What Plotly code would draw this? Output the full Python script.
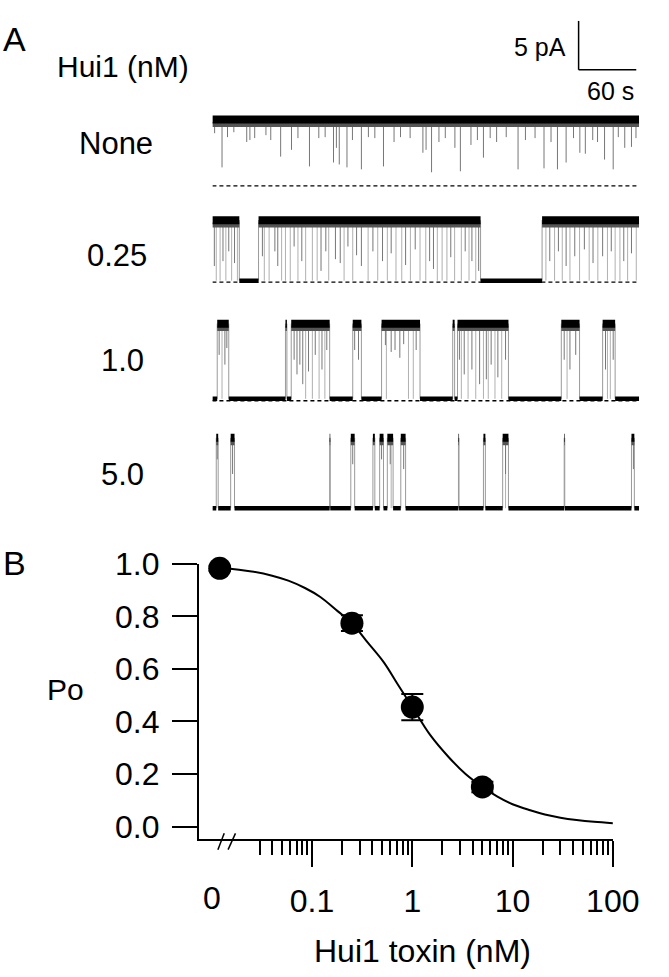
import plotly.graph_objects as go

# ---------------- DATA ----------------
# Panel A : single-channel recordings (time in s, current in pA, closed level = 0)
RECORD_LEN_S = 444
trace_labels = ["None", "0.25", "1.0", "5.0"]
open_level = [6.8, 6.2, 7.7, 7.2]
dash_level = [0.0, -0.15, -0.2, None]

none_open_start = [0]
none_open_end = [444]
none_closure_t = []
none_flicker_t = [10, 71, 101, 126, 132, 140, 155, 178, 228, 258, 282, 318, 345, 359, 368, 388, 408, 417, 436,
                  2.3, 15.7, 22.3, 35.7, 39, 44, 55.7, 60.7, 82.3, 89, 110.7, 117.3, 129, 145.7, 162.3, 169,
                  189, 195.7, 205.7, 219, 222.3, 235.7, 242.3, 252.3, 269, 275.7, 289, 295.7, 305.7, 325.7,
                  335.7, 352.3, 375.7, 382.3, 395.7, 400.7, 422.3, 429, 440.7]
none_flicker_level = [1.9, 3.0, 2.0, 2.4, 2.2, 1.9, 1.7, 2.0, 1.4, 1.5, 2.9, 1.7, 1.8, 1.7, 2.4, 3.3, 2.7, 1.7, 4.0,
                      5.4, 5.0, 5.5, 4.5, 4.7, 4.9, 5.2, 4.7, 3.7, 4.9, 4.9, 5.0, 3.9, 4.7, 5.0, 4.9,
                      4.5, 5.0, 4.9, 3.4, 3.7, 4.5, 4.9, 3.9, 4.2, 4.7, 4.9, 4.5, 5.0, 4.7,
                      4.9, 4.5, 4.9, 3.4, 4.7, 4.5, 5.0, 3.9, 4.9]

p025_open_start = [0, 48, 343]
p025_open_end = [28, 279, 444]
p025_closure_t = [4, 8, 14, 20, 26, 54, 59, 72, 76, 81, 89, 97, 104, 109, 121, 137, 146, 162, 172, 182, 191, 197,
                  206, 216, 222, 234, 239, 244, 252, 259, 267, 274, 347, 356, 364, 372, 382, 392, 401, 411, 419,
                  424, 432, 441]
p025_flicker_t = [2, 11, 17, 23, 52, 65, 68, 85, 93, 113, 118, 128, 133, 141, 150, 155, 167, 177, 186, 201, 211,
                  226, 230, 248, 263, 270, 277, 351, 360, 368, 377, 387, 396, 406, 415, 428, 436]
p025_flicker_level = [1.5, 2.0, 3.0, 1.8, 2.5, 3.0, 1.5, 3.5, 2.0, 1.0, 3.0, 2.2, 1.8, 3.5, 2.6, 1.5, 3.0, 2.0,
                      2.8, 1.6, 3.2, 2.0, 1.2, 2.4, 3.0, 2.0, 1.0, 2.0, 3.0, 1.5, 2.5, 3.2, 1.8, 2.5, 3.0, 2.0, 2.8]

p1_open_start = [5, 76, 82, 146, 176, 250, 255, 363, 406]
p1_open_end = [17, 77.5, 122, 155, 216, 252, 308, 382, 419]
p1_closure_t = [10, 97, 104, 111, 117, 181, 204, 209, 259, 266, 274, 282, 287, 294, 301, 369, 411, 414]
p1_flicker_t = [7, 13, 15, 85, 88, 91, 94, 100, 107, 114, 119, 148, 152, 180, 186, 190, 195, 199, 212,
                257, 262, 270, 278, 285, 290, 297, 305, 366, 372, 378, 409, 417]
p1_flicker_level = [4.5, 3.5, 5.2, 4.0, 2.5, 3.5, 1.5, 2.8, 4.5, 3.0, 5.0, 5.0, 4.0, 5.5, 4.8, 5.0, 4.2, 5.6, 5.0,
                    4.0, 2.5, 3.0, 1.5, 2.0, 3.5, 2.2, 4.0, 4.0, 3.0, 4.5, 3.0, 4.0]

p5_open_start = [4, 19, 122, 144, 167, 174, 182, 196, 256, 282, 302, 366, 436]
p5_open_end = [6, 23, 122.6, 148, 169, 178, 188, 201, 256.6, 284, 308, 366.6, 439]
p5_closure_t = [186, 305]
p5_flicker_t = [5, 21, 146, 176, 185, 199, 305, 438]
p5_flicker_level = [5.0, 3.5, 4.5, 5.0, 4.5, 4.0, 3.5, 4.0]

scale_bar_pA = 5
scale_bar_s = 60

# Panel B : dose-response
conc_nM = [0, 0.25, 1.0, 5.0]
po_mean = [0.983, 0.774, 0.455, 0.151]
po_sem = [0.01, 0.03, 0.05, 0.02]
fit_conc = [0.012, 0.025, 0.04, 0.058, 0.085, 0.121, 0.18, 0.25, 0.36, 0.52, 0.72, 1.0, 1.5, 2.3, 3.4, 5.0,
            7.0, 10, 15, 21, 30, 43.5, 65, 100]
fit_po = [0.985, 0.971, 0.955, 0.936, 0.908, 0.874, 0.82, 0.774, 0.70, 0.625, 0.54, 0.455, 0.35, 0.265, 0.20,
          0.151, 0.115, 0.085, 0.062, 0.046, 0.034, 0.025, 0.018, 0.013]
x_tickvals = [0.1, 1, 10, 100]
x_ticktext = ["0.1", "1", "10", "100"]
x_minor = [0.03, 0.04, 0.05, 0.06, 0.07, 0.08, 0.09] + [m * d for d in (0.1, 1, 10) for m in range(2, 10)]
y_tickvals = [0, 0.2, 0.4, 0.6, 0.8, 1.0]
y_ticktext = ["0.0", "0.2", "0.4", "0.6", "0.8", "1.0"]

# ---------------- LAYOUT HELPERS ----------------
W, H = 669, 977
FONT = "Liberation Sans, Arial, sans-serif"


def fx(px):
    return px / W


def fy(py):
    return 1 - py / H


ZERO_POS = 0.012  # where the 0 nM point sits on the log axis

traces_def = [
    (none_open_start, none_open_end, none_closure_t, none_flicker_t, none_flicker_level),
    (p025_open_start, p025_open_end, p025_closure_t, p025_flicker_t, p025_flicker_level),
    (p1_open_start, p1_open_end, p1_closure_t, p1_flicker_t, p1_flicker_level),
    (p5_open_start, p5_open_end, p5_closure_t, p5_flicker_t, p5_flicker_level),
]
closed_px = [172, 269, 390, 502]  # pixel row of closed level for each trace
YR = (-0.8, 8.8)
PX_PER_PA = 10

fig = go.Figure()

for i, (os_, oe_, cl_t, fl_t, fl_lv) in enumerate(traces_def):
    ya = "y" if i == 0 else f"y{i+1}"
    lvl = open_level[i]
    if dash_level[i] is not None:
        fig.add_trace(go.Scatter(x=[0, RECORD_LEN_S], y=[dash_level[i]] * 2, mode="lines", xaxis="x", yaxis=ya,
                                 line=dict(color="black", width=1.3, dash="4px,3px"), hoverinfo="skip"))
    tx, ty = [], []
    for s, e in zip(os_, oe_):
        for t in (s, e):
            if 0 < t < RECORD_LEN_S:
                tx += [t, t, None]
                ty += [0, lvl, None]
    fig.add_trace(go.Scatter(x=tx, y=ty, mode="lines", xaxis="x", yaxis=ya,
                             line=dict(color="#9a9a9a", width=1), hoverinfo="skip"))
    cx, cy = [], []
    for t in cl_t:
        cx += [t, t, None]
        cy += [0, lvl, None]
    fig.add_trace(go.Scatter(x=cx, y=cy, mode="lines", xaxis="x", yaxis=ya,
                             line=dict(color="#b0b0b0", width=1), hoverinfo="skip"))
    px_, py_ = [], []
    for t, lv in zip(fl_t, fl_lv):
        px_ += [t, t, None]
        py_ += [lv, lvl, None]
    fig.add_trace(go.Scatter(x=px_, y=py_, mode="lines", xaxis="x", yaxis=ya,
                             line=dict(color="#777777", width=1), hoverinfo="skip"))
    bounds = sorted(zip(os_, oe_))
    csx, csy = [], []
    prev = 0
    for s, e in bounds:
        if s > prev:
            csx += [prev, s, None]
            csy += [0, 0, None]
        prev = e
    if prev < RECORD_LEN_S:
        csx += [prev, RECORD_LEN_S, None]
        csy += [0, 0, None]
    if csx:
        fig.add_trace(go.Scatter(x=csx, y=csy, mode="lines", xaxis="x", yaxis=ya,
                                 line=dict(color="black", width=4.5), hoverinfo="skip"))
    ox, oy, fy_ = [], [], []
    for s, e in bounds:
        ox += [s, e, None]
        oy += [lvl, lvl, None]
        fy_ += [lvl - 0.5, lvl - 0.5, None]
    fig.add_trace(go.Scatter(x=ox, y=fy_, mode="lines", xaxis="x", yaxis=ya,
                             line=dict(color="#555555", width=5), hoverinfo="skip"))
    fig.add_trace(go.Scatter(x=ox, y=oy, mode="lines", xaxis="x", yaxis=ya,
                             line=dict(color="black", width=8), hoverinfo="skip"))

# Panel B
fig.add_trace(go.Scatter(x=fit_conc, y=fit_po, mode="lines", line=dict(color="black", width=2, shape="spline"),
                         xaxis="x2", yaxis="y5", hoverinfo="skip"))
plot_x = [ZERO_POS if c == 0 else c for c in conc_nM]
fig.add_trace(go.Scatter(x=plot_x, y=po_mean, mode="markers", xaxis="x2", yaxis="y5",
                         marker=dict(color="black", size=23),
                         error_y=dict(type="data", array=po_sem, color="black", thickness=2, width=11),
                         cliponaxis=False, hoverinfo="skip"))

# ---------------- AXES ----------------
layout = dict(
    width=W, height=H, margin=dict(l=0, r=0, t=0, b=0),
    paper_bgcolor="white", plot_bgcolor="white", showlegend=False,
    font=dict(family=FONT, color="black"),
    xaxis=dict(domain=[fx(221), fx(665)], range=[0, RECORD_LEN_S], visible=False, anchor="y"),
)
for i in range(4):
    key = "yaxis" if i == 0 else f"yaxis{i+1}"
    top = closed_px[i] - (YR[1]) * PX_PER_PA
    bot = closed_px[i] - (YR[0]) * PX_PER_PA
    layout[key] = dict(domain=[fy(bot), fy(top)], range=list(YR), visible=False, anchor="x")

layout["xaxis2"] = dict(
    type="log", domain=[fx(207), fx(638)], range=[-2.128, 2.004], anchor="y5",
    showline=True, linecolor="black", linewidth=2, showgrid=False, zeroline=False,
    ticks="outside", ticklen=26, tickwidth=2, tickcolor="black",
    tickvals=x_tickvals, ticktext=x_ticktext, tickfont=dict(size=32, family=FONT),
    ticklabelstandoff=6,
    minor=dict(tickvals=x_minor, ticks="outside", ticklen=14, tickwidth=2, tickcolor="black", showgrid=False),
)
layout["yaxis5"] = dict(
    domain=[fy(841), fy(559)], range=[-0.048, 1.0], anchor="x2",
    showline=True, linecolor="black", linewidth=2, showgrid=False, zeroline=False,
    ticks="outside", ticklen=25, tickwidth=2, tickcolor="black",
    tickvals=y_tickvals, ticktext=y_ticktext, tickfont=dict(size=32, family=FONT),
    ticklabelstandoff=6,
)

px_per_s = (665 - 221) / RECORD_LEN_S
sb_x0, sb_y0 = 602, 53
shapes = [
    dict(type="line", xref="paper", yref="paper", x0=fx(sb_x0), x1=fx(sb_x0),
         y0=fy(sb_y0), y1=fy(sb_y0 - scale_bar_pA * PX_PER_PA), line=dict(color="black", width=1.5)),
    dict(type="line", xref="paper", yref="paper", x0=fx(sb_x0), x1=fx(sb_x0 + scale_bar_s * px_per_s),
         y0=fy(sb_y0), y1=fy(sb_y0), line=dict(color="black", width=1.5)),
    dict(type="line", xref="paper", yref="paper", x0=fx(226.7), y0=fy(851.7), x1=fx(233.3), y1=fy(835),
         line=dict(color="black", width=1.5)),
    dict(type="line", xref="paper", yref="paper", x0=fx(237.3), y0=fy(851.7), x1=fx(245), y1=fy(835),
         line=dict(color="black", width=1.5)),
]
layout["shapes"] = shapes


def ann(text, x, y, size, xanchor="center"):
    return dict(text=text, x=fx(x), y=fy(y), xref="paper", yref="paper", showarrow=False,
                xanchor=xanchor, yanchor="middle", font=dict(size=size, family=FONT, color="black"))


annotations = [
    ann("A", 15, 22, 34),
    ann("B", 15, 558, 34),
    ann("Hui1 (nM)", 128, 50, 30),
    ann("5 pA", 591, 30, 25, "right"),
    ann("60 s", 635, 75, 25),
    ann("Po", 68, 688, 30),
    ann("Hui1 toxin (nM)", 440, 955, 32),
]
label_y = [129, 243, 351, 468]
label_x = [121, 122, 127, 127]
for lab, lx, ly in zip(trace_labels, label_x, label_y):
    annotations.append(ann(lab, lx, ly, 31))
annotations.append(dict(text="0", x=-2, y=fy(901), xref="x2", yref="paper", showarrow=False,
                        xanchor="center", yanchor="middle", font=dict(size=32, family=FONT, color="black")))
layout["annotations"] = annotations

fig.update_layout(**layout)
fig.write_html("out.html", config={"displayModeBar": False},
               post_script="document.body.style.margin='0';document.body.style.overflow='hidden';")
